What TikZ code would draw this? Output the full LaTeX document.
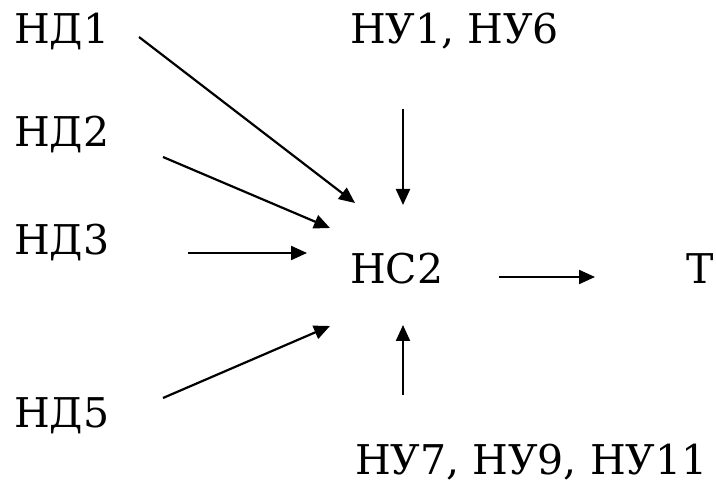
\documentclass[tikz,border=0pt]{standalone}
\usepackage{fontspec}
\setmainfont{DejaVu Serif}
\usetikzlibrary{arrows.meta}
\tikzstyle{metka} = [inner sep=0pt, outer sep=0pt, anchor=base west, font=\fontsize{41}{50}\selectfont]
\tikzstyle{strelka} = [line width=2.2pt, -{Triangle[length=16pt,width=14pt]}]

\begin{document}
\begin{tikzpicture}[x=1pt,y=1pt]
		\useasboundingbox (0,0) rectangle (716,485);
		\node[metka](nd1) at (14,441) {НД1};
		\node[metka](nd2) at (14,338) {НД2};
		\node[metka](nd3) at (14,230) {НД3};
		\node[metka](nd5) at (14,57) {НД5};
		\node[metka](nu16) at (350,441) {НУ1, НУ6};
		\node[metka](nc2) at (350,201) {НС2};
		\node[metka](t) at (686,201) {Т};
		\node[metka](nu7) at (355,10) {НУ7, НУ9, НУ11};
		\draw[strelka] ([shift={(125,7)}]nd1.base west) -- ([shift={(5,81)}]nc2.base west);
		\draw[strelka] ([shift={(149,-10)}]nd2.base west) -- ([shift={(-20,56)}]nc2.base west);
		\draw[strelka] ([shift={(174,2)}]nd3.base west) -- ([shift={(-43,31)}]nc2.base west);
		\draw[strelka] ([shift={(149,30)}]nd5.base west) -- ([shift={(-20,-42)}]nc2.base west);
		\draw[strelka] ([shift={(53,-65)}]nu16.base west) -- ([shift={(53,79)}]nc2.base west);
		\draw[strelka] ([shift={(48,80)}]nu7.base west) -- ([shift={(53,-41)}]nc2.base west);
		\draw[strelka] ([shift={(149,7)}]nc2.base west) -- ([shift={(-91,7)}]t.base west);
	\end{tikzpicture}
\end{document}
